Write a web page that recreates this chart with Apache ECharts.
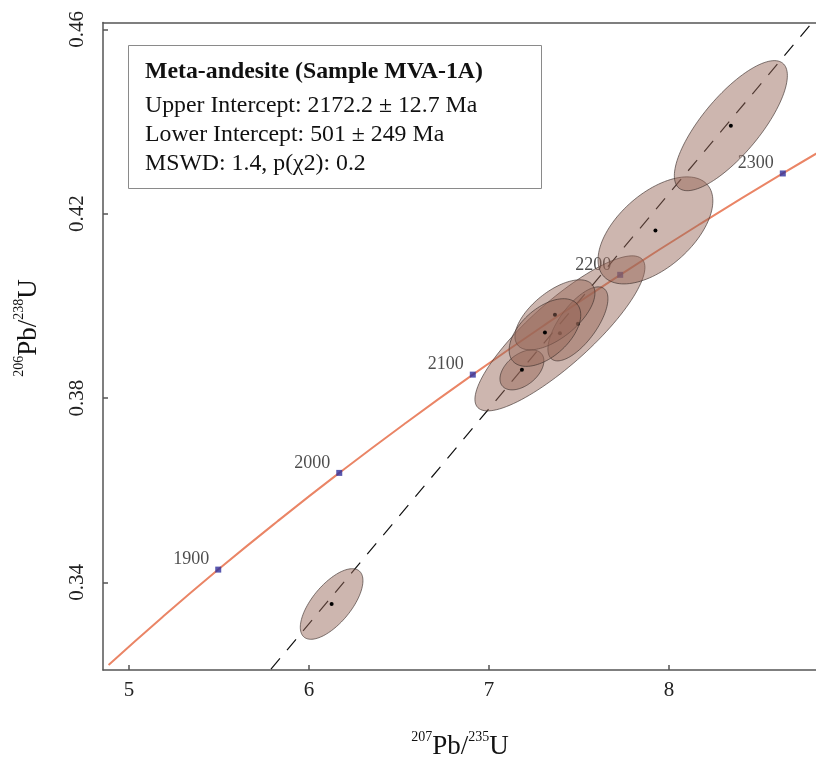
<!DOCTYPE html>
<html>
<head>
<meta charset="utf-8">
<script src="https://cdn.jsdelivr.net/npm/echarts@6/dist/echarts.min.js"></script>
<style>
  html, body { margin: 0; padding: 0; background: #fff; }
  #chart { width: 816px; height: 760px; }
</style>
</head>
<body>
<div id="chart"></div>
<script>
// Concordia curve points (Wetherill), ages in Ma
const concordiaAge = [1800, 1850, 1900, 1950, 2000, 2050, 2100, 2150, 2200, 2250, 2300, 2350];
const concordiaX = [4.8869, 5.1840, 5.4962, 5.8241, 6.1685, 6.5303, 6.9104, 7.3098, 7.7292, 8.1698, 8.6326, 9.1187];
const concordiaY = [0.32210, 0.33240, 0.34279, 0.35323, 0.36377, 0.37439, 0.38509, 0.39587, 0.40674, 0.41769, 0.42873, 0.43986];

// Labelled age ticks on the concordia
const markerAges = [1900, 2000, 2100, 2200, 2300];

// Discordia through the lower and upper intercepts
const discordiaX = [5.70, 9.00];
const discordiaY = [0.31702, 0.47100];

// Analyses: 207Pb/235U, 206Pb/238U, half-widths and error correlation
const ellipseX   = [6.1261, 7.3944, 7.1833, 7.4944, 7.3667, 7.3111, 7.9250, 8.3440];
const ellipseY   = [0.33533, 0.39404, 0.38612, 0.39610, 0.39806, 0.39422, 0.41638, 0.43910];
const ellipseSX  = [0.174, 0.4722, 0.122, 0.1667, 0.2222, 0.1989, 0.319, 0.314];
const ellipseSY  = [0.00766, 0.01682, 0.00434, 0.00803, 0.00760, 0.00734, 0.01161, 0.01411];
const ellipseRho = [0.66, 0.85, 0.45, 0.68, 0.62, 0.52, 0.55, 0.77];

// Axis ticks
const xTicks = [5, 6, 7, 8];
const yTicks = [0.34, 0.38, 0.42, 0.46];

const infoTitle = 'Meta-andesite (Sample MVA-1A)';
const infoLines = [
  'Upper Intercept: 2172.2 ± 12.7 Ma',
  'Lower Intercept: 501 ± 249 Ma',
  'MSWD: 1.4, p(χ2): 0.2'
];

const SERIF = '"Liberation Serif", "Times New Roman", serif';

const concordiaData = concordiaX.map((x, i) => [x, concordiaY[i]]);
const markerData = markerAges.map(a => {
  const i = concordiaAge.indexOf(a);
  return { value: [concordiaX[i], concordiaY[i]], name: String(a) };
});
const discordiaData = discordiaX.map((x, i) => [x, discordiaY[i]]);
const ellipseData = ellipseX.map((x, i) => [x, ellipseY[i], ellipseSX[i], ellipseSY[i], ellipseRho[i]]);

function renderEllipse(params, api) {
  const cx = api.value(0), cy = api.value(1);
  const sx = api.value(2), sy = api.value(3), r = api.value(4);
  const k = Math.sqrt(1 - r * r);
  const pts = [];
  const n = 120;
  for (let j = 0; j < n; j++) {
    const t = (j / n) * Math.PI * 2;
    pts.push(api.coord([cx + sx * Math.cos(t), cy + sy * (r * Math.cos(t) + k * Math.sin(t))]));
  }
  const c = api.coord([cx, cy]);
  return {
    type: 'group',
    children: [
      { type: 'polygon', shape: { points: pts },
        style: { fill: 'rgba(150,102,88,0.48)', stroke: 'rgba(60,48,44,0.8)', lineWidth: 0.8 } },
      { type: 'circle', shape: { cx: c[0], cy: c[1], r: 2 }, style: { fill: '#000' } }
    ]
  };
}

const chart = echarts.init(document.getElementById('chart'), null, { renderer: 'canvas' });

const axisLineStyle = { color: '#555', width: 1.5 };

chart.setOption({
  animation: false,
  backgroundColor: '#fff',
  grid: { left: 103, top: 22.5, right: 0, bottom: 90, outerBoundsMode: 'none' },
  xAxis: [
    {
      type: 'value', min: 4.856, max: 8.817, position: 'bottom',
      axisLine: { show: true, onZero: false, lineStyle: axisLineStyle },
      axisTick: { show: true, inside: true, length: 5, customValues: xTicks, lineStyle: axisLineStyle },
      axisLabel: { customValues: xTicks, margin: 10, fontFamily: SERIF, fontSize: 21, color: '#222' },
      splitLine: { show: false }
    },
    {
      type: 'value', min: 4.856, max: 8.817, position: 'top',
      axisLine: { show: true, onZero: false, lineStyle: axisLineStyle },
      axisTick: { show: false }, axisLabel: { show: false }, splitLine: { show: false }
    }
  ],
  yAxis: {
    type: 'value', min: 0.32101, max: 0.46148, position: 'left',
    axisLine: { show: true, onZero: false, lineStyle: axisLineStyle },
    axisTick: { show: true, inside: true, length: 5, customValues: yTicks, lineStyle: axisLineStyle },
    axisLabel: {
      customValues: yTicks, rotate: 90, margin: 15, fontFamily: SERIF, fontSize: 21, color: '#222',
      formatter: v => Number(v).toFixed(2)
    },
    splitLine: { show: false }
  },
  series: [
    {
      type: 'line', data: concordiaData, smooth: true, symbol: 'none', z: 2,
      lineStyle: { color: '#ea8566', width: 2 }
    },
    {
      type: 'scatter', data: markerData, symbol: 'rect', symbolSize: 6, z: 3,
      itemStyle: { color: '#2f2f9c' },
      label: {
        show: true, position: 'left', distance: 6, offset: [0, -10],
        formatter: p => p.name, fontFamily: SERIF, fontSize: 18, color: '#222'
      }
    },
    {
      type: 'line', data: discordiaData, symbol: 'none', z: 3,
      lineStyle: { color: '#111', width: 1.2, type: [14, 11] }
    },
    {
      type: 'custom', data: ellipseData, renderItem: renderEllipse, z: 5,
      encode: { x: 0, y: 1 }
    }
  ],
  graphic: [
    {
      type: 'rect', z: 10,
      shape: { x: 128.5, y: 45.5, width: 413, height: 143 },
      style: { fill: '#fff', stroke: '#8a8a8a', lineWidth: 1 }
    },
    {
      type: 'text', z: 11, x: 145, y: 72,
      style: { text: infoTitle, font: 'bold 23.8px ' + SERIF, fill: '#111', verticalAlign: 'middle', align: 'left' }
    },
    ...infoLines.map((t, i) => ({
      type: 'text', z: 11, x: 145, y: 106 + i * 29,
      style: { text: t, font: '23.8px ' + SERIF, fill: '#111', verticalAlign: 'middle', align: 'left' }
    })),
    {
      type: 'text', z: 11, x: 460, y: 745,
      style: {
        text: '{s|207}{m|Pb/}{s|235}{m|U}', align: 'center', verticalAlign: 'middle', fill: '#111',
        rich: {
          s: { fontFamily: SERIF, fontSize: 14, lineHeight: 14, verticalAlign: 'top', fill: '#111' },
          m: { fontFamily: SERIF, fontSize: 27, lineHeight: 30, verticalAlign: 'bottom', fill: '#111' }
        }
      }
    },
    {
      type: 'text', z: 11, x: 27, y: 328, rotation: Math.PI / 2,
      style: {
        text: '{s|206}{m|Pb/}{s|238}{m|U}', align: 'center', verticalAlign: 'middle', fill: '#111',
        rich: {
          s: { fontFamily: SERIF, fontSize: 14, lineHeight: 14, verticalAlign: 'top', fill: '#111' },
          m: { fontFamily: SERIF, fontSize: 27, lineHeight: 30, verticalAlign: 'bottom', fill: '#111' }
        }
      }
    }
  ]
});
</script>
</body>
</html>
